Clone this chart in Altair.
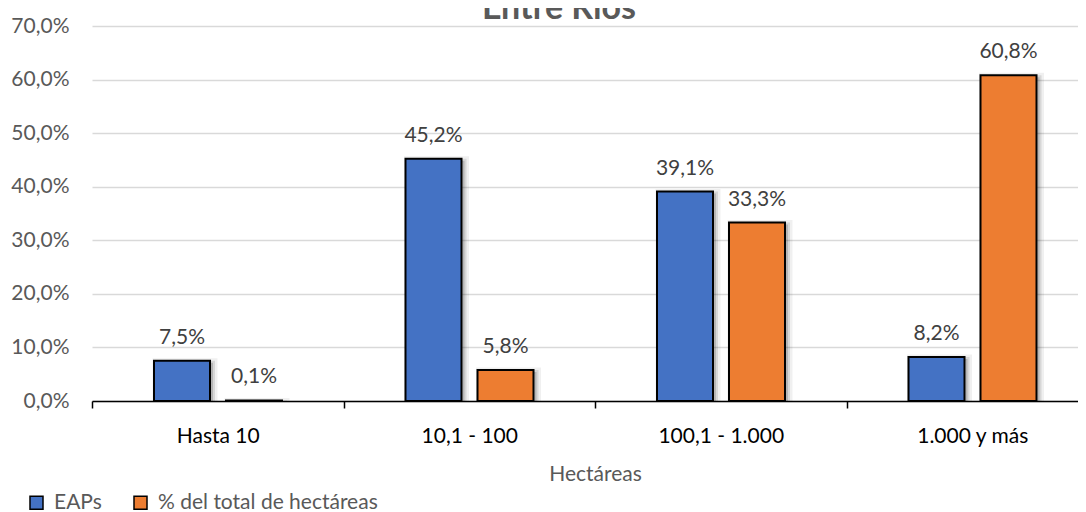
import altair as alt
import pandas as pd

title_text = "Entre Ríos"
categories = ["Hasta 10", "10,1 - 100", "100,1 - 1.000", "1.000 y más"]
series = ["EAPs", "% del total de hectáreas"]
eaps = [7.5, 45.2, 39.1, 8.2]
hectareas = [0.1, 5.8, 33.3, 60.8]
y_ticks = [0, 10, 20, 30, 40, 50, 60, 70]
colors = ["#4472C4", "#ED7D31"]

rows = []
for c, a, b in zip(categories, eaps, hectareas):
    rows.append({"cat": c, "serie": series[0], "v": a})
    rows.append({"cat": c, "serie": series[1], "v": b})
df = pd.DataFrame(rows)

FONT = "Lato"
FS = 21

x_enc = alt.X(
    "cat:N",
    sort=categories,
    scale=alt.Scale(domain=categories, range=[0, 1006], paddingInner=0, paddingOuter=0),
    axis=alt.Axis(
        title="Hectáreas", labelAngle=0, tickBand="extent", ticks=True, tickSize=7,
        tickColor="#000000", tickWidth=1.5, domainColor="#000000", domainWidth=1.5,
        labelFont=FONT, labelFontSize=FS, labelColor="#000000",
        labelBaseline="alphabetic", labelPadding=34,
        titleFont=FONT, titleFontSize=FS, titleColor="#595959", titleFontWeight="normal",
        titleX=503, titleY=79, titleBaseline="alphabetic", grid=False,
    ),
)

y_enc = alt.Y(
    "v:Q",
    scale=alt.Scale(domain=[0, 70], nice=False),
    axis=alt.Axis(
        values=y_ticks, title=None, domain=False, ticks=False, grid=True,
        gridColor="#D9D9D9", gridWidth=1.5,
        labelExpr="replace(format(datum.value, '.1f'), '.', ',') + '%'",
        labelFont=FONT, labelFontSize=FS, labelColor="#595959", labelPadding=23,
    ),
)

def xoff(shift):
    return alt.XOffset(
        "serie:N", sort=series,
        scale=alt.Scale(type="band", domain=series, range=[62 + shift, 190 + shift],
                        paddingInner=0.2222, paddingOuter=0),
    )

base = alt.Chart(df)

shadow1 = base.mark_bar(
    fill="#000000", fillOpacity=0.06, stroke="#000000", strokeOpacity=0.06,
    strokeWidth=9, clip=True, yOffset=2,
).encode(x=x_enc, y=y_enc, xOffset=xoff(3))

shadow2 = base.mark_bar(
    fill="#000000", fillOpacity=0.10, stroke="#000000", strokeOpacity=0.10,
    strokeWidth=4, clip=True, yOffset=2,
).encode(x=x_enc, y=y_enc, xOffset=xoff(3))

bars = base.mark_bar(stroke="#000000", strokeWidth=2).encode(
    x=x_enc,
    y=y_enc,
    xOffset=xoff(0),
    color=alt.Color(
        "serie:N", sort=series,
        scale=alt.Scale(domain=series, range=colors),
        legend=alt.Legend(
            title=None, orient="none", legendX=-66, legendY=466, direction="horizontal",
            symbolType="square", symbolSize=169, symbolStrokeColor="#000000",
            symbolStrokeWidth=1.5, symbolOpacity=1, labelFont=FONT, labelFontSize=FS,
            labelColor="#595959", labelOffset=7, columnPadding=28, padding=0,
            labelLimit=500,
        ),
    ),
)

labels = base.mark_text(
    font=FONT, fontSize=FS, color="#404040", baseline="alphabetic", dy=-17,
).encode(
    x=x_enc,
    y=y_enc,
    xOffset=xoff(0),
    text=alt.Text("label:N"),
).transform_calculate(
    label="replace(format(datum.v, '.1f'), '.', ',') + '%'"
)

title = alt.Chart(alt.Data(values=[{"t": title_text}])).mark_text(
    font=FONT, fontSize=34, fontWeight="bold", color="#595959",
    baseline="alphabetic", align="center",
).encode(
    x=alt.value(467),
    y=alt.value(-7),
    text=alt.Text("t:N"),
)

chart = (
    alt.layer(shadow1, shadow2, bars, labels, title)
    .resolve_scale(xOffset="independent")
    .properties(
        width=986,
        height=375,
        autosize=alt.AutoSizeParams(type="none"),
        padding={"left": 84, "top": 18, "right": 0, "bottom": 111},
        background="white",
    )
    .configure_view(stroke=None)
)

chart.save("out.html", embed_options={"renderer": "svg", "actions": False})
